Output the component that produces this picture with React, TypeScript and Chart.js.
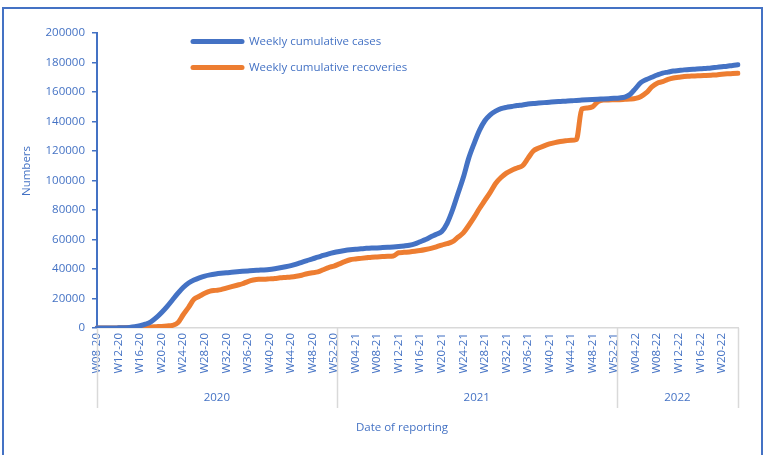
import React, { useEffect, useRef } from "react";
import { Chart, registerables } from "chart.js";

Chart.register(...registerables);

// Week ranges per year (first week, last week) used for category labels
const yearLabels = ["2020", "2021", "2022"];
const yearSuffix = ["20", "21", "22"];
const firstWeek = [8, 1, 1];
const lastWeek = [52, 52, 23];

const weekLabels: string[] = [];
const yearStartIndex: number[] = [];
yearSuffix.forEach((suf, y) => {
  yearStartIndex.push(weekLabels.length);
  for (let w = firstWeek[y]; w <= lastWeek[y]; w++) {
    weekLabels.push("W" + String(w).padStart(2, "0") + "-" + suf);
  }
});

const cases = [
  0, 0, 0, 0, 100, 200, 400, 800, 1500, 2600,
  4200, 7000, 10500, 14500, 19000, 23500, 27500, 30500, 32500, 34000,
  35200, 36000, 36600, 37100, 37500, 37800, 38100, 38400, 38700, 39000,
  39200, 39400, 39700, 40200, 40800, 41500, 42300, 43300, 44500, 45700,
  46900, 48000, 49200, 50300, 51200, 51900, 52500, 53000, 53400, 53700,
  54000, 54200, 54300, 54500, 54700, 54900, 55200, 55600, 56100, 57000,
  58500, 60000, 61800, 63500, 65500, 71000, 80000, 91000, 102000, 115000,
  125000, 134000, 140500, 144500, 147000, 148700, 149600, 150200, 150800, 151200,
  151800, 152200, 152500, 152800, 153100, 153400, 153600, 153800, 154000, 154300,
  154500, 154700, 154900, 155100, 155300, 155500, 155700, 156000, 156600, 158500,
  162500, 166500, 168500, 170000, 171500, 172800, 173500, 174200, 174600, 175000,
  175300, 175500, 175700, 176000, 176300, 176700, 177100, 177500, 178000, 178400,
];

const recoveries = [
  0, 0, 0, 0, 100, 200, 300, 400, 500, 600,
  700, 900, 1100, 1400, 1800, 3500, 9000, 14000, 19500, 21500,
  23500, 25000, 25500, 26000, 27000, 28000, 29000, 30000, 31500, 32500,
  33000, 33000, 33300, 33600, 34000, 34300, 34600, 35100, 35800, 36800,
  37500, 38000, 39500, 41000, 42000, 43500, 45000, 46300, 46800, 47200,
  47600, 48000, 48200, 48400, 48600, 48800, 51000, 51300, 51600, 52000,
  52500, 53200, 54000, 55000, 56200, 57200, 58500, 61500, 64500, 69500,
  75000, 81000, 86500, 92000, 98000, 102000, 105000, 107000, 108500, 110000,
  115000, 120000, 122000, 123500, 124800, 125700, 126400, 126900, 127300, 127800,
  148500, 149200, 150000, 153500, 154500, 154600, 154700, 154800, 155000, 155200,
  155700, 157000, 159500, 163500, 166000, 167000, 168500, 169500, 170000, 170500,
  170700, 170900, 171000, 171200, 171400, 171600, 172000, 172300, 172500, 172700,
];

const seriesNames = ["Weekly cumulative cases", "Weekly cumulative recoveries"];
const yTitle = "Numbers";
const xTitle = "Date of reporting";

const BLUE = "#4472C4";
const ORANGE = "#ED7D31";
const GRAY = "#D9D9D9";
const TEXT = "#4472C4";
const FONT = '"Open Sans", "Liberation Sans", sans-serif';

export default function App() {
  const ref = useRef<HTMLCanvasElement | null>(null);

  useEffect(() => {
    if (!ref.current) return;

    const decor = {
      id: "decor",
      afterDraw(chart: any) {
        const ctx = chart.ctx as CanvasRenderingContext2D;
        const xs = chart.scales.x;
        const area = chart.chartArea;
        ctx.save();
        // outer border
        ctx.strokeStyle = BLUE;
        ctx.lineWidth = 2;
        ctx.strokeRect(3, 8, 759, 500);

        // group separators and year labels
        const bounds: number[] = [area.left];
        for (let y = 1; y < yearStartIndex.length; y++) {
          bounds.push(xs.getPixelForValue(yearStartIndex[y] - 0.5));
        }
        bounds.push(area.right);
        ctx.strokeStyle = GRAY;
        ctx.lineWidth = 1.5;
        bounds.forEach((b) => {
          ctx.beginPath();
          ctx.moveTo(Math.round(b) + 0.5, area.bottom);
          ctx.lineTo(Math.round(b) + 0.5, 408);
          ctx.stroke();
        });
        ctx.fillStyle = TEXT;
        ctx.font = "11.5px " + FONT;
        ctx.textAlign = "center";
        ctx.textBaseline = "middle";
        yearLabels.forEach((lab, i) => {
          ctx.fillText(lab, (bounds[i] + bounds[i + 1]) / 2, 398);
        });

        // axis titles
        ctx.fillText(xTitle, 402, 428);
        ctx.save();
        ctx.translate(27, 171);
        ctx.rotate(-Math.PI / 2);
        ctx.fillText(yTitle, 0, 0);
        ctx.restore();

        // legend
        const colors = [BLUE, ORANGE];
        const ys = [41.5, 67.5];
        ctx.lineCap = "round";
        ctx.lineWidth = 5;
        ctx.textAlign = "left";
        seriesNames.forEach((name, i) => {
          ctx.strokeStyle = colors[i];
          ctx.beginPath();
          ctx.moveTo(193, ys[i]);
          ctx.lineTo(242, ys[i]);
          ctx.stroke();
          ctx.fillStyle = TEXT;
          ctx.fillText(name, 249, ys[i]);
        });
        ctx.restore();
      },
    };

    const chart = new Chart(ref.current, {
      type: "line",
      data: {
        labels: weekLabels,
        datasets: [
          {
            label: seriesNames[0],
            data: cases,
            borderColor: BLUE,
            backgroundColor: BLUE,
            borderWidth: 5,
            pointRadius: 0,
            cubicInterpolationMode: "monotone",
            borderCapStyle: "round",
            borderJoinStyle: "round",
          },
          {
            label: seriesNames[1],
            data: recoveries,
            borderColor: ORANGE,
            backgroundColor: ORANGE,
            borderWidth: 5,
            pointRadius: 0,
            cubicInterpolationMode: "monotone",
            borderCapStyle: "round",
            borderJoinStyle: "round",
          },
        ],
      },
      options: {
        responsive: false,
        animation: false,
        devicePixelRatio: 1,
        layout: { padding: { top: 33, right: 29, left: 0, bottom: 0 } },
        plugins: {
          legend: { display: false },
          tooltip: { enabled: false },
        },
        scales: {
          x: {
            type: "category",
            offset: false,
            grid: { drawOnChartArea: false, drawTicks: false, color: "rgba(0,0,0,0)" },
            border: { color: GRAY, width: 1.5 },
            ticks: {
              autoSkip: false,
              minRotation: 90,
              maxRotation: 90,
              padding: 5,
              color: TEXT,
              font: { family: FONT, size: 11.5 },
              callback: (_v: any, i: number) => (i % 4 === 0 ? weekLabels[i] : ""),
            },
            afterFit: (s: any) => {
              s.height = 127;
            },
          },
          y: {
            min: 0,
            max: 200000,
            grid: { drawOnChartArea: false, drawTicks: true, tickLength: 5, color: BLUE, lineWidth: 1.5 },
            border: { color: BLUE, width: 2 },
            ticks: {
              stepSize: 20000,
              padding: 7,
              color: TEXT,
              font: { family: FONT, size: 11.5 },
              callback: (v: any) => String(v),
            },
            afterFit: (s: any) => {
              s.width = 97;
            },
          },
        },
      },
      plugins: [decor],
    } as any);

    return () => chart.destroy();
  }, []);

  return (
    <div style={{ position: "absolute", left: 0, top: 0, width: 767, height: 455, overflow: "hidden", background: "#fff" }}>
      <canvas ref={ref} width={767} height={455} style={{ display: "block" }} />
    </div>
  );
}
